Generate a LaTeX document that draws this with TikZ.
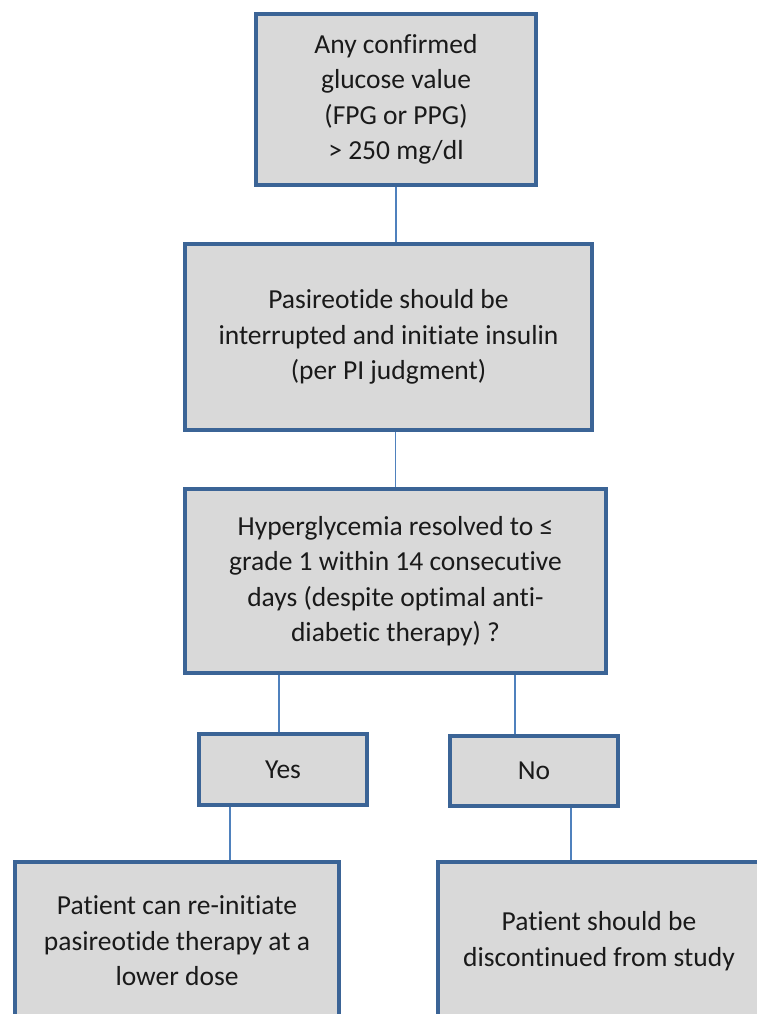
\documentclass[tikz,border=0pt]{standalone}
\usepackage{fontspec}
\setmainfont{Carlito}[Ligatures=NoCommon]
\definecolor{boxline}{HTML}{3B6496}
\definecolor{boxfill}{HTML}{D9D9D9}
\definecolor{conn}{HTML}{4F81BD}
\definecolor{txt}{HTML}{1A1A1A}
\begin{document}
\begin{tikzpicture}[x=1pt,y=-1pt,
  flowbox/.style={draw=boxline, fill=boxfill, line width=3.6pt, rectangle,
    inner sep=0pt, align=center, text=txt,
    font=\fontsize{27.5}{35.5}\selectfont},
  link/.style={draw=conn, line width=1.3pt}]
\useasboundingbox (0,0) rectangle (757,1014);
\clip (0,0) rectangle (757,1014);
\node[flowbox, minimum width=280pt, minimum height=171pt] (b1) at (396,99.5)
  {Any confirmed\\glucose value\\(FPG or PPG)\\> 250 mg/dl};
\node[flowbox, minimum width=407pt, minimum height=186pt] (b2) at (388.5,337)
  {Pasireotide should be\\interrupted and initiate insulin\\(per PI judgment)};
\node[flowbox, minimum width=421pt, minimum height=184pt] (b3) at (395.5,581)
  {Hyperglycemia resolved to ≤\\grade 1 within 14 consecutive\\days (despite optimal anti-\\diabetic therapy) ?};
\node[flowbox, minimum width=168pt, minimum height=71pt] (yes) at (283,769.5) {Yes};
\node[flowbox, minimum width=168pt, minimum height=70pt] (no) at (534,771) {No};
\node[flowbox, minimum width=324pt, minimum height=158pt] (lb) at (177,941)
  {Patient can re-initiate\\pasireotide therapy at a\\lower dose};
\node[flowbox, minimum width=322pt, minimum height=158pt] (rb) at (599,941)
  {Patient should be\\discontinued from study};
\draw[link] (b1.south) -- (b1.south |- b2.north);
\draw[link] (b3.north) -- (b3.north |- b2.south);
\draw[link] ([xshift=-4pt]yes.north) -- ([xshift=-4pt]yes.north |- b3.south);
\draw[link] ([xshift=-19pt]no.north) -- ([xshift=-19pt]no.north |- b3.south);
\draw[link] ([xshift=53pt]lb.north) -- ([xshift=53pt]lb.north |- yes.south);
\draw[link] ([xshift=-28pt]rb.north) -- ([xshift=-28pt]rb.north |- no.south);
\end{tikzpicture}
\end{document}
